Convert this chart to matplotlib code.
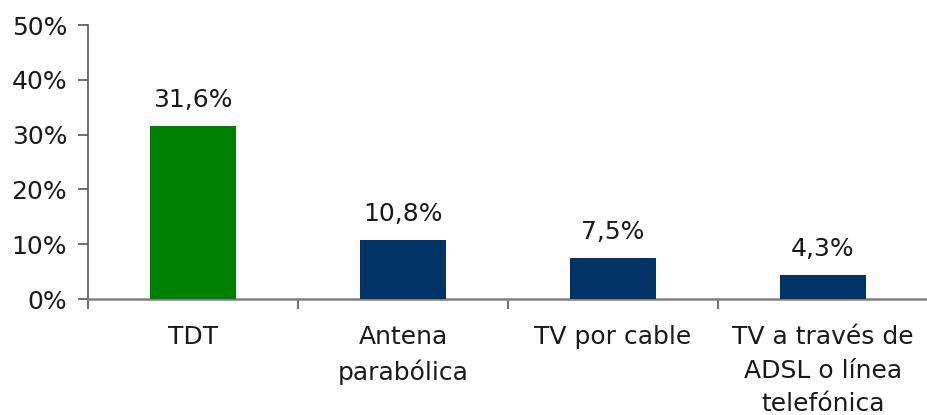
import numpy as np
import matplotlib
matplotlib.use("Agg")
import matplotlib.pyplot as plt
import matplotlib.ticker as ticker

categories = ["TDT", "Antena\nparabólica", "TV por cable",
              "TV a través de\nADSL o línea\ntelefónica"]
values = [31.6, 10.8, 7.5, 4.3]
value_labels = ["31,6%", "10,8%", "7,5%", "4,3%"]
colors = ["#008000", "#003366", "#003366", "#003366"]

plt.rcParams["font.family"] = ["DejaVu Sans"]
FS = 18

fig = plt.figure(figsize=(9.28, 4.15), dpi=100)
ax = fig.add_axes([88/928, 1 - 299/415, 1 - 88/928, (299 - 25)/415])

x = np.arange(len(categories))
ax.bar(x, values, width=0.41, color=colors, zorder=3)

for xi, v, lab in zip(x, values, value_labels):
    ax.text(xi, v + 2.6, lab, ha="center", va="bottom", fontsize=FS,
            color="#1a1a1a")

ax.set_xlim(-0.5, 3.5)
ax.set_ylim(0, 50)
ax.yaxis.set_major_locator(ticker.MultipleLocator(10))
ax.yaxis.set_major_formatter(ticker.FuncFormatter(lambda v, p: f"{v:.0f}%"))

ax.set_xticks(x)
ax.set_xticklabels(categories, fontsize=FS, color="#1a1a1a", linespacing=1.5,
                   va="top")
ax.tick_params(axis="x", which="major", length=0, pad=19)
ax.set_xticks(np.arange(-0.5, 4.0, 1.0), minor=True)
ax.tick_params(axis="x", which="minor", length=7, width=1.2, color="#555555")
ax.tick_params(axis="y", labelsize=FS, labelcolor="#1a1a1a", length=7,
               width=1.2, color="#555555", pad=8)

for s in ["top", "right"]:
    ax.spines[s].set_visible(False)
ax.spines["left"].set_color("#555555")
ax.spines["left"].set_linewidth(1.2)
ax.spines["bottom"].set_color("#808080")
ax.spines["bottom"].set_linewidth(1.8)

fig.savefig("out.png", dpi=100)
